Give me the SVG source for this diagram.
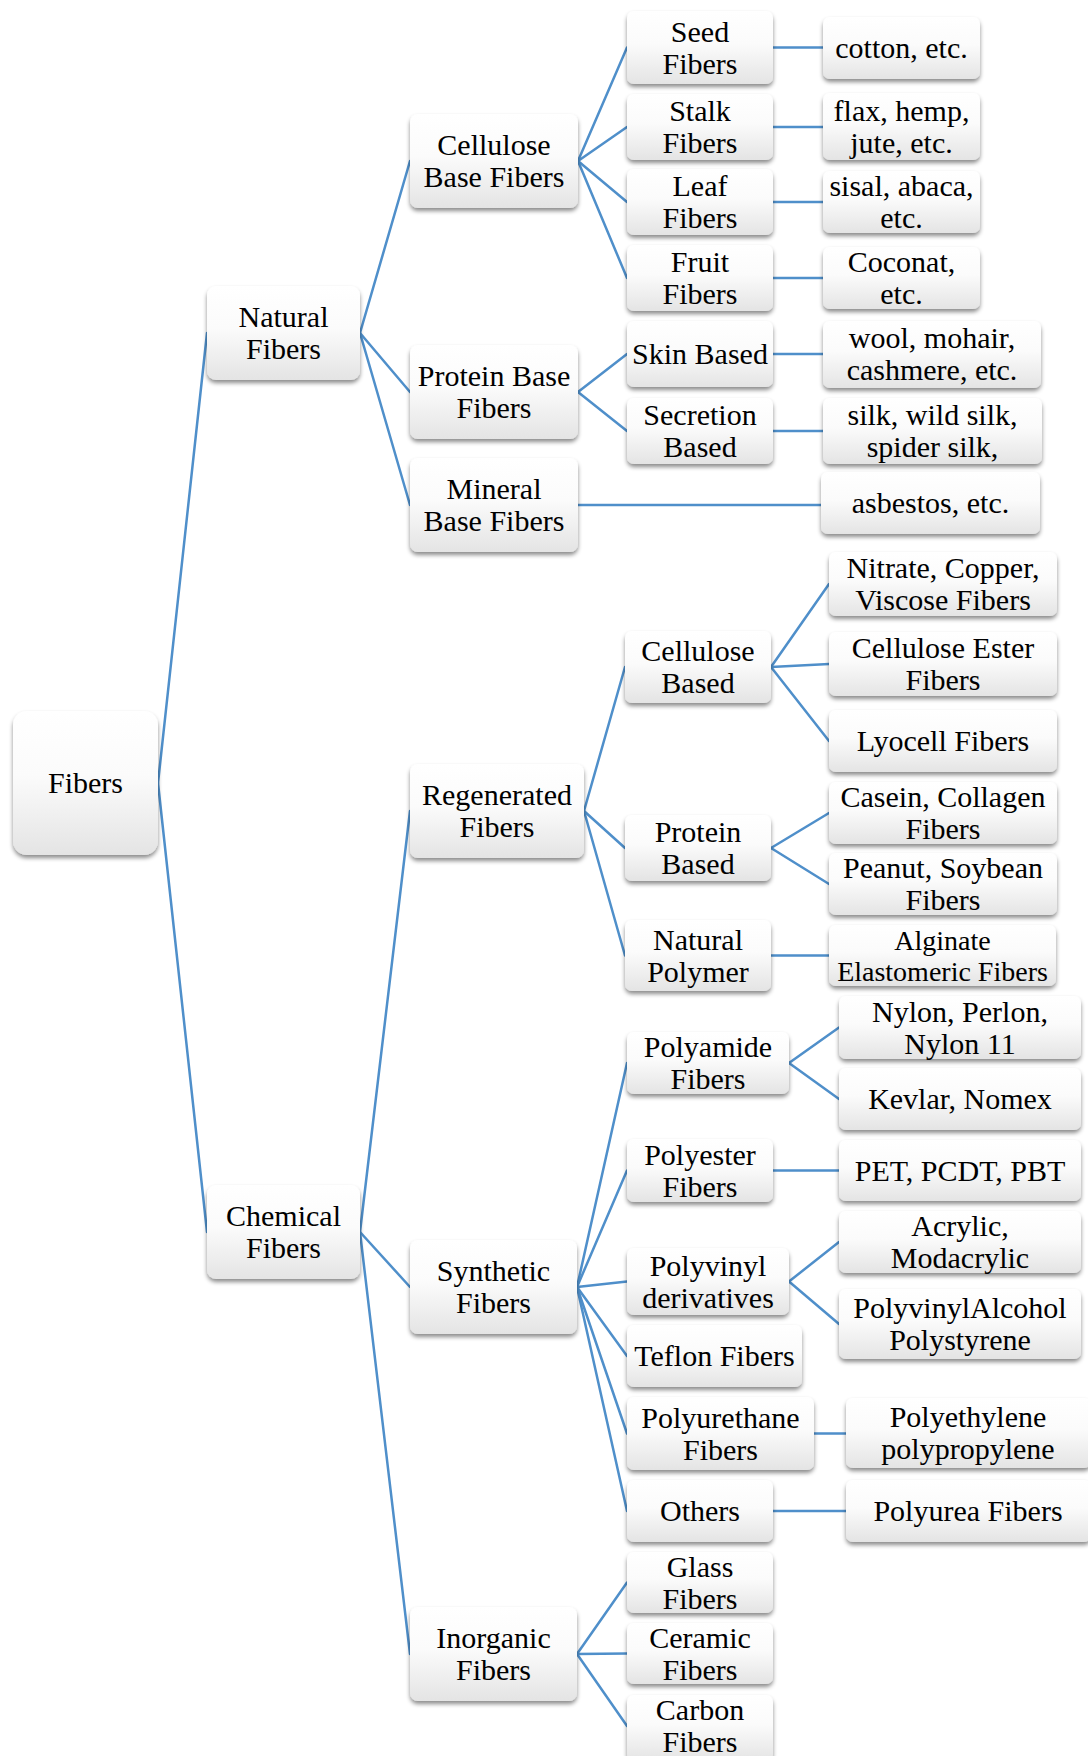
<svg xmlns="http://www.w3.org/2000/svg" width="1088" height="1756" viewBox="0 0 1088 1756">
  <defs>
    <linearGradient id="boxFill" x1="0" y1="0" x2="0" y2="1">
      <stop offset="0" stop-color="#ffffff"/>
      <stop offset="0.45" stop-color="#fbfbfb"/>
      <stop offset="1" stop-color="#e4e4e4"/>
    </linearGradient>
    <filter id="shadow" x="-10%" y="-10%" width="120%" height="130%">
      <feDropShadow dx="0" dy="3" stdDeviation="2.2" flood-color="#000" flood-opacity="0.45"/>
    </filter>
    <style>
      .box { fill: url(#boxFill); filter: url(#shadow); }
      .t { font-family: "Liberation Serif", "Times New Roman", serif; font-size: 30px; text-anchor: middle; fill: #000; }
      .s { font-size: 28px; }
      .links line { stroke: #4f8fca; stroke-width: 2.5; stroke-linecap: round; }
    </style>
  </defs>

  <rect width="1088" height="1756" fill="#ffffff"/>

  <!-- connectors: parent right-middle to child left-middle -->
  <g class="links" id="connectors">
    <line x1="158" y1="783" x2="207" y2="333"/>
    <line x1="158" y1="783" x2="207" y2="1232"/>

    <line x1="360" y1="333" x2="410" y2="161"/>
    <line x1="360" y1="333" x2="410" y2="392"/>
    <line x1="360" y1="333" x2="410" y2="505"/>

    <line x1="578" y1="161" x2="627" y2="47.5"/>
    <line x1="578" y1="161" x2="627" y2="127"/>
    <line x1="578" y1="161" x2="627" y2="202"/>
    <line x1="578" y1="161" x2="627" y2="278"/>
    <line x1="773" y1="47.5" x2="823" y2="47.5"/>
    <line x1="773" y1="127" x2="823" y2="127"/>
    <line x1="773" y1="202" x2="823" y2="202"/>
    <line x1="773" y1="278" x2="823" y2="278"/>

    <line x1="578" y1="392" x2="627" y2="354"/>
    <line x1="578" y1="392" x2="627" y2="431"/>
    <line x1="773" y1="354" x2="823" y2="354"/>
    <line x1="773" y1="431" x2="823" y2="431"/>

    <line x1="578" y1="505" x2="821" y2="505"/>

    <line x1="360" y1="1232" x2="410" y2="811"/>
    <line x1="360" y1="1232" x2="410" y2="1287"/>
    <line x1="360" y1="1232" x2="410" y2="1654"/>

    <line x1="584" y1="811" x2="625" y2="667"/>
    <line x1="584" y1="811" x2="625" y2="848"/>
    <line x1="584" y1="811" x2="625" y2="955.5"/>
    <line x1="771" y1="667" x2="829" y2="584"/>
    <line x1="771" y1="667" x2="829" y2="664"/>
    <line x1="771" y1="667" x2="829" y2="741"/>
    <line x1="771" y1="848" x2="829" y2="813"/>
    <line x1="771" y1="848" x2="829" y2="884"/>
    <line x1="771" y1="955.5" x2="829" y2="955.5"/>

    <line x1="577" y1="1287" x2="627" y2="1063"/>
    <line x1="577" y1="1287" x2="627" y2="1170.5"/>
    <line x1="577" y1="1287" x2="627" y2="1281.5"/>
    <line x1="577" y1="1287" x2="627" y2="1356"/>
    <line x1="577" y1="1287" x2="627" y2="1433.5"/>
    <line x1="577" y1="1287" x2="627" y2="1511"/>
    <line x1="789" y1="1063" x2="839" y2="1027.5"/>
    <line x1="789" y1="1063" x2="839" y2="1099"/>
    <line x1="773" y1="1170.5" x2="839" y2="1170.5"/>
    <line x1="789" y1="1281.5" x2="839" y2="1242"/>
    <line x1="789" y1="1281.5" x2="839" y2="1324"/>
    <line x1="814" y1="1433.5" x2="846" y2="1433.5"/>
    <line x1="773" y1="1511" x2="846" y2="1511"/>

    <line x1="577" y1="1654" x2="627" y2="1582.5"/>
    <line x1="577" y1="1654" x2="627" y2="1653.5"/>
    <line x1="577" y1="1654" x2="627" y2="1726"/>
  </g>

  <!-- root -->
  <g id="fibers">
    <rect class="box" x="13" y="711" width="145" height="144" rx="14"/>
    <text class="t" x="85.5" y="793">Fibers</text>
  </g>

  <!-- level 1 -->
  <g id="natural-fibers">
    <rect class="box" x="207" y="286" width="153" height="94" rx="9"/>
    <text class="t" x="283.5" y="327">Natural</text>
    <text class="t" x="283.5" y="359">Fibers</text>
  </g>
  <g id="chemical-fibers">
    <rect class="box" x="207" y="1185" width="153" height="94" rx="9"/>
    <text class="t" x="283.5" y="1226">Chemical</text>
    <text class="t" x="283.5" y="1258">Fibers</text>
  </g>

  <!-- level 2 -->
  <g id="cellulose-base-fibers">
    <rect class="box" x="410" y="114" width="168" height="94" rx="8"/>
    <text class="t" x="494" y="155">Cellulose</text>
    <text class="t" x="494" y="187">Base Fibers</text>
  </g>
  <g id="protein-base-fibers">
    <rect class="box" x="410" y="345" width="168" height="94" rx="8"/>
    <text class="t" x="494" y="386">Protein Base</text>
    <text class="t" x="494" y="418">Fibers</text>
  </g>
  <g id="mineral-base-fibers">
    <rect class="box" x="410" y="458" width="168" height="94" rx="8"/>
    <text class="t" x="494" y="499">Mineral</text>
    <text class="t" x="494" y="531">Base Fibers</text>
  </g>
  <g id="regenerated-fibers">
    <rect class="box" x="410" y="764" width="174" height="94" rx="8"/>
    <text class="t" x="497" y="805">Regenerated</text>
    <text class="t" x="497" y="837">Fibers</text>
  </g>
  <g id="synthetic-fibers">
    <rect class="box" x="410" y="1240" width="167" height="94" rx="8"/>
    <text class="t" x="493.5" y="1281">Synthetic</text>
    <text class="t" x="493.5" y="1313">Fibers</text>
  </g>
  <g id="inorganic-fibers">
    <rect class="box" x="410" y="1607" width="167" height="94" rx="8"/>
    <text class="t" x="493.5" y="1648">Inorganic</text>
    <text class="t" x="493.5" y="1680">Fibers</text>
  </g>

  <!-- natural: level 3 -->
  <g id="seed-fibers">
    <rect class="box" x="627" y="11" width="146" height="73" rx="7"/>
    <text class="t" x="700" y="42">Seed</text>
    <text class="t" x="700" y="74">Fibers</text>
  </g>
  <g id="stalk-fibers">
    <rect class="box" x="627" y="94" width="146" height="66" rx="7"/>
    <text class="t" x="700" y="121">Stalk</text>
    <text class="t" x="700" y="153">Fibers</text>
  </g>
  <g id="leaf-fibers">
    <rect class="box" x="627" y="169" width="146" height="66" rx="7"/>
    <text class="t" x="700" y="196">Leaf</text>
    <text class="t" x="700" y="228">Fibers</text>
  </g>
  <g id="fruit-fibers">
    <rect class="box" x="627" y="245" width="146" height="66" rx="7"/>
    <text class="t" x="700" y="272">Fruit</text>
    <text class="t" x="700" y="304">Fibers</text>
  </g>
  <g id="skin-based">
    <rect class="box" x="627" y="321" width="146" height="66" rx="7"/>
    <text class="t" x="700" y="364">Skin Based</text>
  </g>
  <g id="secretion-based">
    <rect class="box" x="627" y="398" width="146" height="66" rx="7"/>
    <text class="t" x="700" y="425">Secretion</text>
    <text class="t" x="700" y="457">Based</text>
  </g>

  <!-- natural: examples -->
  <g id="cotton">
    <rect class="box" x="823" y="17" width="157" height="62" rx="7"/>
    <text class="t" x="901.5" y="58">cotton, etc.</text>
  </g>
  <g id="flax">
    <rect class="box" x="823" y="93" width="157" height="67" rx="7"/>
    <text class="t" x="901.5" y="121">flax, hemp,</text>
    <text class="t" x="901.5" y="153">jute, etc.</text>
  </g>
  <g id="sisal">
    <rect class="box" x="823" y="171" width="157" height="62" rx="7"/>
    <text class="t" x="901.5" y="196">sisal, abaca,</text>
    <text class="t" x="901.5" y="228">etc.</text>
  </g>
  <g id="coconat">
    <rect class="box" x="823" y="247" width="157" height="62" rx="7"/>
    <text class="t" x="901.5" y="272">Coconat,</text>
    <text class="t" x="901.5" y="304">etc.</text>
  </g>
  <g id="wool">
    <rect class="box" x="823" y="321" width="218" height="67" rx="7"/>
    <text class="t" x="932" y="348">wool, mohair,</text>
    <text class="t" x="932" y="380">cashmere, etc.</text>
  </g>
  <g id="silk">
    <rect class="box" x="823" y="398" width="219" height="66" rx="7"/>
    <text class="t" x="932.5" y="425">silk, wild silk,</text>
    <text class="t" x="932.5" y="457">spider silk,</text>
  </g>
  <g id="asbestos">
    <rect class="box" x="821" y="472" width="219" height="62" rx="7"/>
    <text class="t" x="930.5" y="513">asbestos, etc.</text>
  </g>

  <!-- regenerated: level 3 -->
  <g id="cellulose-based">
    <rect class="box" x="625" y="631" width="146" height="72" rx="7"/>
    <text class="t" x="698" y="661">Cellulose</text>
    <text class="t" x="698" y="693">Based</text>
  </g>
  <g id="protein-based">
    <rect class="box" x="625" y="815" width="146" height="66" rx="7"/>
    <text class="t" x="698" y="842">Protein</text>
    <text class="t" x="698" y="874">Based</text>
  </g>
  <g id="natural-polymer">
    <rect class="box" x="625" y="920" width="146" height="71" rx="7"/>
    <text class="t" x="698" y="949.5">Natural</text>
    <text class="t" x="698" y="981.5">Polymer</text>
  </g>

  <!-- regenerated: examples -->
  <g id="nitrate">
    <rect class="box" x="829" y="552" width="228" height="64" rx="7"/>
    <text class="t" x="943" y="578">Nitrate, Copper,</text>
    <text class="t" x="943" y="610">Viscose Fibers</text>
  </g>
  <g id="cellulose-ester">
    <rect class="box" x="829" y="632" width="228" height="64" rx="7"/>
    <text class="t" x="943" y="658">Cellulose Ester</text>
    <text class="t" x="943" y="690">Fibers</text>
  </g>
  <g id="lyocell">
    <rect class="box" x="829" y="710" width="228" height="62" rx="7"/>
    <text class="t" x="943" y="751">Lyocell Fibers</text>
  </g>
  <g id="casein">
    <rect class="box" x="829" y="782" width="228" height="62" rx="7"/>
    <text class="t" x="943" y="807">Casein, Collagen</text>
    <text class="t" x="943" y="839">Fibers</text>
  </g>
  <g id="peanut">
    <rect class="box" x="829" y="853" width="228" height="62" rx="7"/>
    <text class="t" x="943" y="878">Peanut, Soybean</text>
    <text class="t" x="943" y="910">Fibers</text>
  </g>
  <g id="alginate">
    <rect class="box" x="829" y="925" width="227" height="61" rx="7"/>
    <text class="t s" x="942.5" y="950">Alginate</text>
    <text class="t s" x="942.5" y="981">Elastomeric Fibers</text>
  </g>

  <!-- synthetic: level 3 -->
  <g id="polyamide-fibers">
    <rect class="box" x="627" y="1032" width="162" height="62" rx="7"/>
    <text class="t" x="708" y="1057">Polyamide</text>
    <text class="t" x="708" y="1089">Fibers</text>
  </g>
  <g id="polyester-fibers">
    <rect class="box" x="627" y="1139" width="146" height="63" rx="7"/>
    <text class="t" x="700" y="1164.5">Polyester</text>
    <text class="t" x="700" y="1196.5">Fibers</text>
  </g>
  <g id="polyvinyl-derivatives">
    <rect class="box" x="627" y="1248" width="162" height="67" rx="7"/>
    <text class="t" x="708" y="1275.5">Polyvinyl</text>
    <text class="t" x="708" y="1307.5">derivatives</text>
  </g>
  <g id="teflon-fibers">
    <rect class="box" x="627" y="1325" width="175" height="62" rx="7"/>
    <text class="t" x="714.5" y="1366">Teflon Fibers</text>
  </g>
  <g id="polyurethane-fibers">
    <rect class="box" x="627" y="1397" width="187" height="73" rx="7"/>
    <text class="t" x="720.5" y="1427.5">Polyurethane</text>
    <text class="t" x="720.5" y="1459.5">Fibers</text>
  </g>
  <g id="others">
    <rect class="box" x="627" y="1480" width="146" height="62" rx="7"/>
    <text class="t" x="700" y="1521">Others</text>
  </g>

  <!-- synthetic: examples -->
  <g id="nylon">
    <rect class="box" x="839" y="996" width="242" height="63" rx="7"/>
    <text class="t" x="960" y="1021.5">Nylon, Perlon,</text>
    <text class="t" x="960" y="1053.5">Nylon 11</text>
  </g>
  <g id="kevlar">
    <rect class="box" x="839" y="1068" width="242" height="62" rx="7"/>
    <text class="t" x="960" y="1109">Kevlar, Nomex</text>
  </g>
  <g id="pet">
    <rect class="box" x="839" y="1140" width="242" height="61" rx="7"/>
    <text class="t" x="960" y="1180.5">PET, PCDT, PBT</text>
  </g>
  <g id="acrylic">
    <rect class="box" x="839" y="1211" width="242" height="62" rx="7"/>
    <text class="t" x="960" y="1236">Acrylic,</text>
    <text class="t" x="960" y="1268">Modacrylic</text>
  </g>
  <g id="polyvinyl-alcohol">
    <rect class="box" x="839" y="1289" width="242" height="70" rx="7"/>
    <text class="t" x="960" y="1318">PolyvinylAlcohol</text>
    <text class="t" x="960" y="1350">Polystyrene</text>
  </g>
  <g id="polyethylene">
    <rect class="box" x="846" y="1398" width="245" height="70" rx="7"/>
    <text class="t" x="968" y="1427">Polyethylene</text>
    <text class="t" x="968" y="1459">polypropylene</text>
  </g>
  <g id="polyurea">
    <rect class="box" x="846" y="1480" width="245" height="62" rx="7"/>
    <text class="t" x="968" y="1521">Polyurea Fibers</text>
  </g>

  <!-- inorganic: level 3 -->
  <g id="glass-fibers">
    <rect class="box" x="627" y="1552" width="146" height="61" rx="7"/>
    <text class="t" x="700" y="1576.5">Glass</text>
    <text class="t" x="700" y="1608.5">Fibers</text>
  </g>
  <g id="ceramic-fibers">
    <rect class="box" x="627" y="1623" width="146" height="61" rx="7"/>
    <text class="t" x="700" y="1647.5">Ceramic</text>
    <text class="t" x="700" y="1679.5">Fibers</text>
  </g>
  <g id="carbon-fibers">
    <rect class="box" x="627" y="1695" width="146" height="66" rx="7"/>
    <text class="t" x="700" y="1720">Carbon</text>
    <text class="t" x="700" y="1752">Fibers</text>
  </g>
</svg>
